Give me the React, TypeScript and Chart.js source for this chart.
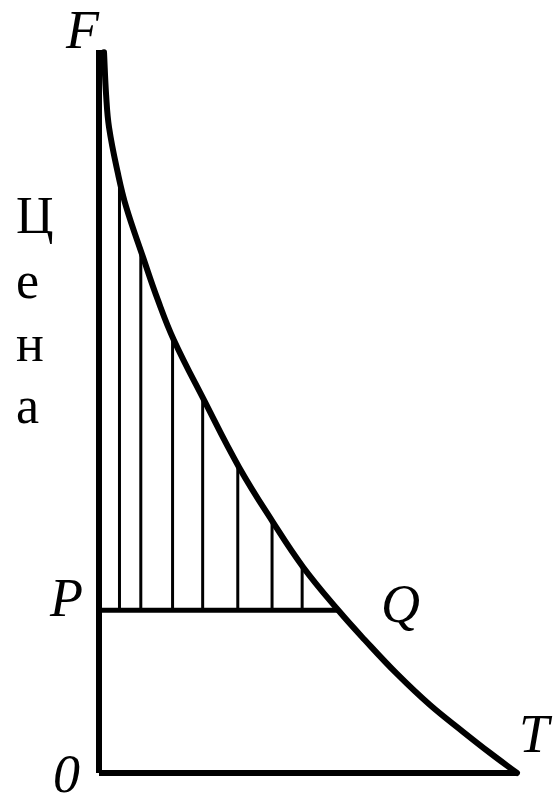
import React, { useEffect, useRef } from "react";
import { Chart, registerables } from "chart.js";

Chart.register(...registerables);

// Demand curve (quantity, price)
const curveQty = [0.12, 0.17, 0.24, 0.45, 0.65, 1.05, 1.41, 1.79, 2.51, 3.35, 4.16, 4.88, 5.74, 6.36, 7.13, 7.92, 8.71, 9.35, 10.0];
const curvePrice = [9.97, 9.38, 8.93, 8.3, 7.83, 7.14, 6.54, 5.99, 5.16, 4.23, 3.47, 2.85, 2.24, 1.84, 1.37, 0.94, 0.57, 0.28, 0.0];

// Vertical hatch lines of the consumer surplus area
const hatchQty = [0.49, 1.0, 1.76, 2.48, 3.32, 4.14, 4.86];
const hatchTop = [8.2, 7.2, 6.04, 5.2, 4.26, 3.5, 2.88];

const marketPrice = 2.25;
const marketQty = 5.74;
const maxQty = 10;
const maxPrice = 10;

const axisTitle = ["Ц", "е", "н", "а"];
const pointLabels = { F: "F", P: "P", Q: "Q", T: "T", O: "0" };

export default function App() {
  const ref = useRef<HTMLCanvasElement | null>(null);

  useEffect(() => {
    document.body.style.margin = "0";
    const canvas = ref.current;
    if (!canvas) return;

    const black = "#000000";
    const line = (data: { x: number; y: number }[], width: number, extra: any = {}) => ({
      data,
      borderColor: black,
      borderWidth: width,
      pointRadius: 0,
      fill: false,
      clip: false as any,
      tension: 0,
      ...extra,
    });

    const datasets: any[] = [];
    // axes
    datasets.push(line([{ x: 0, y: 0 }, { x: 0, y: maxPrice }], 6, { borderCapStyle: "butt" }));
    datasets.push(line([{ x: 0, y: 0 }, { x: maxQty, y: 0 }], 6));
    // price line P-Q
    datasets.push(line([{ x: 0, y: marketPrice }, { x: marketQty, y: marketPrice }], 5));
    // hatch lines
    hatchQty.forEach((q, i) => {
      datasets.push(line([{ x: q, y: marketPrice }, { x: q, y: hatchTop[i] }], 3));
    });
    // demand curve
    datasets.push(
      line(
        curveQty.map((q, i) => ({ x: q, y: curvePrice[i] })),
        6,
        { tension: 0.4, borderCapStyle: "round", borderJoinStyle: "round" }
      )
    );

    const labelPlugin = {
      id: "labels",
      afterDatasetsDraw(chart: any) {
        const { ctx, scales } = chart;
        const xs = scales.x;
        const ys = scales.y;
        const x0 = xs.getPixelForValue(0);
        ctx.save();
        ctx.fillStyle = black;
        ctx.textBaseline = "alphabetic";
        ctx.font = "italic 54px 'Liberation Serif', 'DejaVu Serif', serif";
        ctx.textAlign = "left";
        ctx.fillText(pointLabels.F, x0 - 33, ys.getPixelForValue(maxPrice) - 2);
        ctx.fillText(pointLabels.P, x0 - 49, ys.getPixelForValue(marketPrice) + 6);
        ctx.fillText(pointLabels.Q, xs.getPixelForValue(marketQty) + 42, ys.getPixelForValue(marketPrice) + 12);
        ctx.fillText(pointLabels.T, xs.getPixelForValue(maxQty) + 2, ys.getPixelForValue(0) - 21);
        ctx.fillText(pointLabels.O, x0 - 46, ys.getPixelForValue(0) + 19);

        ctx.font = "52px 'Liberation Serif', 'DejaVu Serif', serif";
        const baselines = [233, 298, 361, 423];
        axisTitle.forEach((ch, i) => {
          ctx.fillText(ch, x0 - 83, baselines[i]);
        });
        ctx.restore();
      },
    };

    const chart = new Chart(canvas, {
      type: "scatter",
      data: { datasets },
      options: {
        animation: false,
        responsive: false,
        showLine: true,
        layout: { padding: { left: 99, right: 36, top: 50, bottom: 28 } },
        scales: {
          x: { type: "linear", min: 0, max: maxQty, display: false },
          y: { type: "linear", min: 0, max: maxPrice, display: false },
        },
        plugins: { legend: { display: false }, tooltip: { enabled: false } },
      } as any,
      plugins: [labelPlugin],
    });

    return () => chart.destroy();
  }, []);

  return (
    <div style={{ width: 553, height: 801, background: "#fff" }}>
      <canvas ref={ref} width={553} height={801} style={{ display: "block" }} />
    </div>
  );
}
